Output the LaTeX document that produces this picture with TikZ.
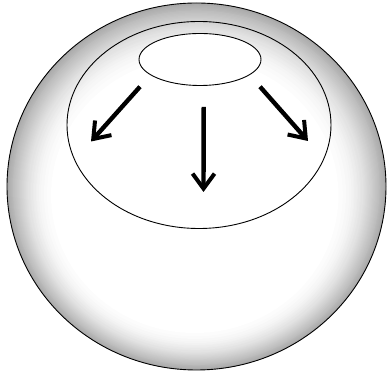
\documentclass[tikz,border=0pt]{standalone}
\usetikzlibrary{shapes.geometric,arrows.meta}
\tikzset{
  outline/.style={draw=black, line width=0.9pt},
  bigarrow/.style={line width=4.4pt, -{Straight Barb[length=15pt,width=22pt,line width=4pt]}},
}
\begin{document}
\begin{tikzpicture}[x=1pt,y=1pt]
\useasboundingbox (0,0) rectangle (388,379);
% gradient of the sphere, as stacked ellipses
\foreach \k in {0,...,50}{
  \pgfmathsetmacro\u{\k/50}
  \pgfmathsetmacro\rx{189.5-52*\u}
  \pgfmathsetmacro\ry{183.5-52*\u}
  \pgfmathsetmacro\cx{196.5-2*\u}
  \pgfmathsetmacro\cy{192.5-10*\u}
  \pgfmathtruncatemacro\p{round(34*(1-\u)^2)}
  \fill[black!\p] (\cx,\cy) ellipse [x radius=\rx, y radius=\ry];
}
% outer sphere
\node[ellipse, outline, minimum width=379pt, minimum height=367pt, inner sep=0pt] (sphere) at (196.5,192.5) {};
% inner ellipse
\node[ellipse, outline, minimum width=264pt, minimum height=207pt, inner sep=0pt] (region) at (199,254) {};
% small ellipse
\node[ellipse, outline, fill=white, minimum width=122pt, minimum height=52pt, inner sep=0pt] (source) at (200,319.5) {};
% arrow endpoints
\coordinate (l0) at (140,292.3);
\coordinate (l1) at (91,237.5);
\coordinate (m0) at (203.7,272);
\coordinate (m1) at (203.5,187);
\coordinate (r0) at (260,292.3);
\coordinate (r1) at (308,238);
\draw[bigarrow] (l0) -- (l1);
\draw[bigarrow] (m0) -- (m1);
\draw[bigarrow] (r0) -- (r1);
\end{tikzpicture}
\end{document}
